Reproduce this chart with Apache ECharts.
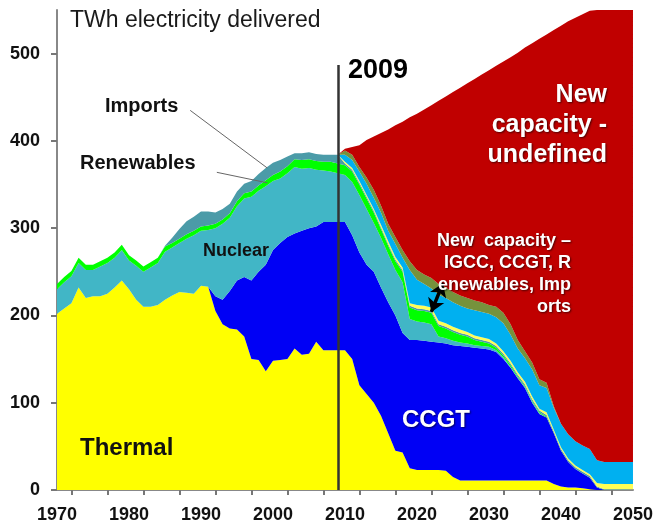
<!DOCTYPE html>
<html>
<head>
<meta charset="utf-8">
<script src="https://cdn.jsdelivr.net/npm/echarts@6/dist/echarts.min.js"></script>
<style>
  html, body { margin: 0; padding: 0; background: #fff; }
  #chart { width: 656px; height: 528px; }
</style>
</head>
<body>
<div id="chart"></div>
<script>
// years 1970..2050, one value per year
const years = Array.from({ length: 81 }, (_, i) => String(1970 + i))

const thermal = [
  202, 208, 214, 232, 220, 222, 222, 225, 232, 240,
  230, 218, 210, 210, 212, 218, 223, 227, 226, 225,
  234, 233, 205, 190, 185, 184, 176, 150, 149, 136,
  148, 149, 150, 162, 155, 156, 170, 160, 160, 160,
  160, 150, 120, 110, 100, 85, 65, 45, 43, 25,
  23, 23, 23, 23, 22, 15, 11, 11, 11, 11,
  11, 11, 11, 11, 11, 11, 11, 11, 11, 7,
  4, 3, 3, 2, 1, 0, 0, 0, 0, 0,
  0
]
const ccgt = [
  0, 0, 0, 0, 0, 0, 0, 0, 0, 0,
  0, 0, 0, 0, 0, 0, 0, 0, 0, 0,
  0, 0, 17, 28, 43, 56, 68, 90, 101, 122,
  127, 134, 140, 132, 142, 144, 132, 147, 147, 147,
  147, 142, 152, 148, 150, 147, 150, 155, 137, 147,
  149, 148, 147, 146, 146, 151, 154, 153, 152, 151,
  150, 147, 139, 129, 117, 106, 89, 76, 72, 58,
  41, 29, 21, 17, 13, 3, 0, 0, 0, 0,
  0
]
const nuclear = [
  28, 30, 31, 28, 32, 30, 34, 35, 34, 35,
  33, 39, 40, 45, 48, 55, 55, 56, 62, 67,
  63, 65, 78, 87, 84, 85, 90, 96, 93, 90,
  79, 74, 73, 76, 71, 69, 65, 59, 58, 56,
  54, 61, 66, 64, 56, 57, 55, 52, 58, 24,
  21, 21, 20, 7, 6, 5, 4, 4, 3, 3,
  3, 2, 2, 1, 1, 1, 1, 1, 0, 0,
  0, 0, 0, 0, 0, 0, 0, 0, 0, 0,
  0
]
const renewables = [
  6, 6, 6, 6, 6, 6, 6, 6, 6, 6,
  6, 6, 6, 6, 6, 6, 5, 5, 5, 5,
  5, 5, 5, 5, 5, 6, 6, 6, 6, 7,
  7, 8, 8, 9, 10, 10, 10, 10, 11, 11,
  11, 12, 12, 12, 12, 10, 10, 10, 12, 13,
  13, 13, 13, 12, 11, 10, 9, 8, 6, 5,
  4, 3, 2, 2, 1, 1, 1, 1, 1, 0,
  0, 0, 0, 0, 0, 0, 0, 0, 0, 0,
  0
]
const imports = [
  0, 0, 0, 0, 0, 0, 0, 0, 0, 0,
  0, 0, 0, 0, 0, 1, 6, 11, 15, 16,
  17, 16, 13, 12, 11, 11, 11, 12, 13, 14,
  14, 13, 11, 7, 8, 8, 8, 8, 8, 10,
  2, 2, 2, 2, 2, 2, 2, 2, 2, 2,
  2, 2, 2, 2, 2, 2, 2, 2, 2, 2,
  2, 2, 2, 2, 2, 2, 2, 2, 2, 2,
  2, 2, 2, 2, 2, 1, 1, 1, 1, 1,
  1
]
const other = [
  0, 0, 0, 0, 0, 0, 0, 0, 0, 0,
  0, 0, 0, 0, 0, 0, 0, 0, 0, 0,
  0, 0, 0, 0, 0, 0, 0, 0, 0, 0,
  0, 0, 0, 0, 0, 0, 0, 0, 0, 0,
  2, 2, 2, 2, 2, 3, 3, 3, 3, 3,
  4, 4, 4, 4, 4, 4, 4, 3, 3, 3,
  3, 3, 3, 3, 3, 3, 3, 2, 3, 2,
  2, 2, 2, 2, 2, 4, 6, 6, 6, 6,
  6
]
const newDefined = [
  0, 0, 0, 0, 0, 0, 0, 0, 0, 0,
  0, 0, 0, 0, 0, 0, 0, 0, 0, 0,
  0, 0, 0, 0, 0, 0, 0, 0, 0, 0,
  0, 0, 0, 0, 0, 0, 0, 0, 0, 0,
  8, 9, 11, 13, 13, 14, 12, 15, 11, 38,
  29, 25, 22, 30, 29, 28, 27, 27, 29, 29,
  29, 30, 32, 30, 27, 27, 31, 27, 28, 25,
  27, 28, 28, 28, 29, 26, 25, 25, 25, 25,
  25
]
const newOlive = [
  0, 0, 0, 0, 0, 0, 0, 0, 0, 0,
  0, 0, 0, 0, 0, 0, 0, 0, 0, 0,
  0, 0, 0, 0, 0, 0, 0, 0, 0, 0,
  0, 0, 0, 0, 0, 0, 0, 0, 0, 0,
  5, 6, 5, 7, 9, 8, 8, 8, 9, 10,
  11, 11, 12, 12, 12, 12, 12, 12, 11, 11,
  10, 12, 12, 12, 10, 8, 8, 7, 6, 2,
  0, 0, 0, 0, 0, 0, 0, 0, 0, 0,
  0
]
const undefinedCap = [
  0, 0, 0, 0, 0, 0, 0, 0, 0, 0,
  0, 0, 0, 0, 0, 0, 0, 0, 0, 0,
  0, 0, 0, 0, 0, 0, 0, 0, 0, 0,
  0, 0, 0, 0, 0, 0, 0, 0, 0, 0,
  2, 9, 25, 43, 61, 83, 108, 128, 147, 165,
  179, 189, 198, 210, 219, 229, 238, 246, 254, 261,
  269, 276, 288, 306, 329, 348, 366, 390, 399, 431,
  456, 473, 485, 494, 502, 516, 518, 518, 518, 518,
  518
]

const FONT = '"Liberation Sans", Arial, sans-serif'

function area(name, color, vals) {
  return {
    name: name,
    type: 'line',
    stack: 'supply',
    data: vals,
    symbol: 'none',
    showSymbol: false,
    silent: true,
    lineStyle: { width: 0 },
    areaStyle: { color: color, opacity: 1 },
    itemStyle: { color: color }
  }
}

const shadow = {
  textShadowColor: 'rgba(0,0,0,0.6)', textShadowBlur: 2, textShadowOffsetX: 1, textShadowOffsetY: 1
}

function label(x, y, style) {
  return { type: 'text', x: x, y: y, z: 100, silent: true, style: style }
}

const chart = echarts.init(document.getElementById('chart'))

chart.setOption({
  animation: false,
  backgroundColor: '#fff',
  grid: { left: 57, right: 23, top: 10, bottom: 38 },
  xAxis: [{
    type: 'category',
    data: years,
    boundaryGap: false,
    position: 'bottom',
    splitLine: { show: false },
    axisLine: { lineStyle: { color: '#888', width: 2 } },
    // ticks fall between the decade labels, every five years
    axisTick: {
      show: true,
      interval: function (i) { return i % 5 === 2 },
      length: 5,
      lineStyle: { color: '#777', width: 2 }
    },
    axisLabel: {
      interval: 9,
      color: '#111',
      fontFamily: FONT,
      fontWeight: 'bold',
      fontSize: 18,
      margin: 16
    }
  }, {
    // hidden continuous year axis for annotation lines
    type: 'value',
    position: 'top',
    min: 1970,
    max: 2050,
    show: false
  }],
  yAxis: {
    type: 'value',
    min: 0,
    max: 550,
    interval: 100,
    splitLine: { show: false },
    axisLine: { show: true, lineStyle: { color: '#888', width: 2 } },
    axisTick: {
      show: true,
      length: 6,
      lineStyle: { color: '#777', width: 2 }
    },
    axisLabel: {
      color: '#111',
      fontFamily: FONT,
      fontWeight: 'bold',
      fontSize: 18,
      margin: 17,
      showMaxLabel: false,
      formatter: function (v) { return v > 500 ? '' : String(v) }
    }
  },
  series: [
    area('Thermal', '#ffff00', thermal),
    area('CCGT', '#0000f5', ccgt),
    area('Nuclear', '#41b6c6', nuclear),
    area('Renewables', '#00ff00', renewables),
    area('Imports', '#4b9ba8', imports),
    area('Other', '#ffff55', other),
    area('New capacity - IGCC, CCGT, Renewables, Imports', '#00b0f0', newDefined),
    area('New capacity (other)', '#76923c', newOlive),
    area('New capacity - undefined', '#c00000', undefinedCap),
    {
      name: 'annotations',
      type: 'line',
      xAxisIndex: 1,
      data: [[1970, 0]],
      symbol: 'none',
      silent: true,
      lineStyle: { width: 0 },
      z: 5,
      markLine: {
        silent: true,
        animation: false,
        symbol: ['none', 'none'],
        label: { show: false },
        lineStyle: { type: 'solid' },
        data: [
          [{ coord: [2009, 0], lineStyle: { color: '#333', width: 2.5, type: 'solid' } }, { coord: [2009, 487] }],
          [{ coord: [1988.5, 435], lineStyle: { color: '#666', width: 1, type: 'solid' } }, { coord: [1999.2, 369] }],
          [{ coord: [1992.2, 364], lineStyle: { color: '#666', width: 1, type: 'solid' } }, { coord: [1999.2, 352] }],
          [{ coord: [2023.6, 237], symbol: 'arrow', symbolSize: 13, lineStyle: { color: '#000', width: 3.5, type: 'solid' } },
           { coord: [2022.0, 204], symbol: 'arrow', symbolSize: 13 }]
        ]
      }
    }
  ],
  graphic: [
    label(70, 9, { text: 'TWh electricity delivered', font: '23px ' + FONT, fill: '#1a1a1a' }),
    label(348, 57, { text: '2009', font: 'bold 27px ' + FONT, fill: '#000' }),
    label(105, 96, { text: 'Imports', font: 'bold 20px ' + FONT, fill: '#111' }),
    label(80, 153, { text: 'Renewables', font: 'bold 20px ' + FONT, fill: '#111' }),
    label(236, 251, { text: 'Nuclear', font: 'bold 18px ' + FONT, fill: '#111',
      textAlign: 'center', textVerticalAlign: 'middle' }),
    label(80, 448, { text: 'Thermal', font: 'bold 24px ' + FONT, fill: '#111', textVerticalAlign: 'middle' }),
    label(436, 420, Object.assign({ text: 'CCGT', font: 'bold 24px ' + FONT, fill: '#fff',
      textAlign: 'center', textVerticalAlign: 'middle' }, shadow)),
    label(607, 80, Object.assign({ text: 'New\ncapacity -\nundefined', font: 'bold 25px ' + FONT,
      fill: '#fff', textAlign: 'right', lineHeight: 30 }, shadow)),
    label(571, 230, Object.assign({ text: 'New  capacity \u2013\nIGCC, CCGT, R\nenewables, Imp\norts',
      font: 'bold 18px ' + FONT, fill: '#fff', textAlign: 'right', lineHeight: 22 }, shadow))
  ]
})
</script>
</body>
</html>
